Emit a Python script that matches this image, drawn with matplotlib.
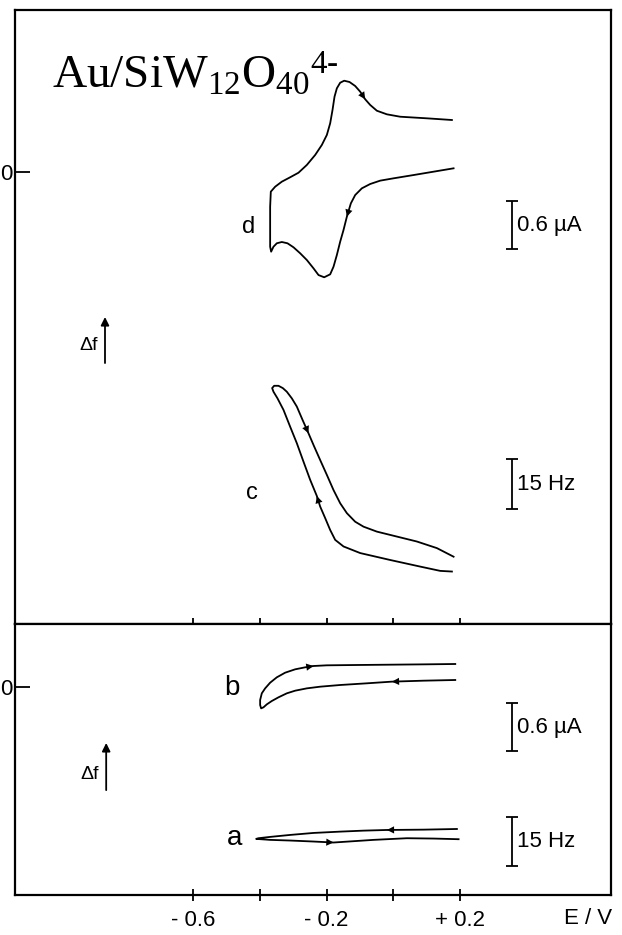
import numpy as np
import matplotlib
matplotlib.use('Agg')
import matplotlib.pyplot as plt

plt.rcParams['font.family'] = ['Liberation Sans', 'DejaVu Sans']
plt.rcParams['mathtext.fontset'] = 'custom'
plt.rcParams['mathtext.rm'] = 'Liberation Serif'
plt.rcParams['mathtext.it'] = 'Liberation Serif:italic'

# d: cyclic voltammogram on Au/SiW12O40(4-), current in uA (sweep starts at +0.2 V going negative)
E_d = [0.181, 0.121, 0.061, 0.001, -0.039, -0.069, -0.094, -0.114, -0.127, -0.139,
       -0.149, -0.159, -0.169, -0.179, -0.189, -0.207, -0.224, -0.239, -0.259, -0.279,
       -0.299, -0.317, -0.334, -0.349, -0.359, -0.366, -0.369, -0.369, -0.369, -0.367,
       -0.354, -0.334, -0.309, -0.284, -0.259, -0.234, -0.214, -0.199, -0.189, -0.182,
       -0.176, -0.169, -0.159, -0.147, -0.131, -0.114, -0.099, -0.084, -0.069, -0.049,
       -0.019, 0.021, 0.101, 0.176]
I_d = [0.046, 0.004, -0.038, -0.079, -0.108, -0.150, -0.204, -0.288, -0.392, -0.559,
       -0.725, -0.871, -1.038, -1.184, -1.279, -1.316, -1.288, -1.204, -1.100, -1.016,
       -0.941, -0.891, -0.875, -0.891, -0.934, -0.996, -0.934, -0.684, -0.434, -0.246,
       -0.184, -0.121, -0.066, -0.009, 0.088, 0.213, 0.338, 0.463, 0.609, 0.775,
       0.941, 1.046, 1.116, 1.141, 1.125, 1.075, 1.004, 0.909, 0.838, 0.766,
       0.721, 0.691, 0.671, 0.650]
arrows_d = [9, 47]

# c: frequency shift for the same scan, Hz relative to start
E_c = [0.176, 0.141, 0.081, -0.009, -0.099, -0.149, -0.174, -0.189, -0.204, -0.219,
       -0.229, -0.249, -0.269, -0.289, -0.309, -0.329, -0.347, -0.359, -0.363, -0.357,
       -0.344, -0.331, -0.319, -0.304, -0.289, -0.272, -0.254, -0.237, -0.219, -0.199,
       -0.179, -0.159, -0.139, -0.114, -0.089, -0.049, -0.009, 0.071, 0.131, 0.181]
F_c = [0.1, 0.3, 1.6, 3.6, 5.7, 7.7, 9.7, 12.7, 16.3, 19.8,
       23.0, 27.9, 33.4, 39.0, 44.0, 49.1, 52.6, 54.6, 55.7, 56.4,
       56.4, 55.7, 54.6, 52.6, 50.1, 46.1, 42.0, 38.0, 33.9, 29.4,
       24.8, 20.8, 17.8, 15.2, 13.7, 12.2, 11.2, 9.2, 7.2, 4.6]
arrows_c = [10, 26]

# b: blank gold electrode, current in uA
E_b = [0.186, 0.091, -0.004, -0.079, -0.159, -0.219, -0.259, -0.294, -0.319, -0.344,
       -0.364, -0.379, -0.389, -0.396, -0.399, -0.399, -0.394, -0.384, -0.369, -0.349,
       -0.324, -0.294, -0.264, -0.239, -0.199, -0.109, -0.009, 0.091, 0.186]
I_b = [0.0875, 0.079, 0.067, 0.046, 0.025, 0.004, -0.017, -0.046, -0.079, -0.129,
       -0.175, -0.217, -0.254, -0.267, -0.225, -0.1625, -0.079, -0.017, 0.054, 0.121,
       0.179, 0.221, 0.246, 0.2625, 0.271, 0.275, 0.279, 0.283, 0.2875]
arrows_b = [2, 23]

# a: blank gold electrode, frequency shift in Hz
E_a = [0.191, 0.091, -0.019, -0.089, -0.159, -0.239, -0.309, -0.369, -0.404, -0.411,
       -0.369, -0.309, -0.239, -0.179, -0.119, -0.059, 0.041, 0.121, 0.196]
F_a = [0.0, -0.2, -0.3, -0.5, -0.8, -1.2, -1.8, -2.4, -2.8, -3.0,
       -3.3, -3.5, -3.8, -4.1, -3.7, -3.3, -2.8, -2.9, -3.1]
arrows_a = [2, 13]

xticks = [-0.6, -0.4, -0.2, 0.0, 0.2]
xticklabels = ['- 0.6', '', '- 0.2', '', '+ 0.2']

LW = 1.3


def draw_scan(ax, x, y, arrows, label, lx, ly, fs):
    ax.plot(x, y, color='k', lw=LW, solid_joinstyle='round')
    for i in arrows:
        ax.annotate('', xy=(x[i], y[i]), xytext=(x[i-1], y[i-1]),
                    arrowprops=dict(arrowstyle='-|>', color='k', lw=0,
                                    mutation_scale=13, shrinkA=0, shrinkB=0))
    ax.text(lx, ly, label, fontsize=fs, ha='center', va='center')


def scale_bar(ax, x, y0, y1, text):
    ax.errorbar(x, (y0 + y1) / 2, yerr=(y1 - y0) / 2, fmt='none', ecolor='k',
                elinewidth=LW, capsize=4, capthick=LW)
    ax.annotate(text, xy=(x, (y0 + y1) / 2), xytext=(4, 0), textcoords='offset points',
                ha='left', va='center', fontsize=16)


def delta_f(ax, x, y0, y1, ty):
    ax.annotate('', xy=(x, y1), xytext=(x, y0), xycoords='axes fraction',
                arrowprops=dict(arrowstyle='-|>', color='k', lw=LW,
                                mutation_scale=12, shrinkA=0, shrinkB=0))
    ax.text(x - 0.012, ty, '\u0394f', transform=ax.transAxes, fontsize=14,
            ha='right', va='center')


fig = plt.figure(figsize=(6.22, 9.35), dpi=100)
ax1 = fig.add_axes([15/622, 311/935, 596/622, 614/935])
ax2 = fig.add_axes([15/622, 40/935, 596/622, 271/935])

for ax in (ax1, ax2):
    ax.set_xlim(-1.134, 0.653)
    ax.set_xticks(xticks)
    ax.tick_params(axis='x', direction='inout', length=9, width=LW, labelsize=16, pad=6)
    ax.set_yticks([0])
    ax.set_yticklabels(['0'])
    ax.tick_params(axis='y', direction='in', length=11, width=LW, labelsize=16, pad=2)
    for s in ax.spines.values():
        s.set_linewidth(1.6)
ax1.set_xticklabels([])
ax2.set_xticklabels(xticklabels)

ax1.set_ylim(-5.65, 2.025)
ax2.set_ylim(-2.6, 0.7875)

# frequency curves share the frame but use their own Hz scale
ax1f = ax1.twinx()
ax1f.set_ylim(-15.8, 170.3)
ax1f.axis('off')
ax2f = ax2.twinx()
ax2f.set_ylim(-20.0, 62.1)
ax2f.axis('off')

draw_scan(ax1, E_d, I_d, arrows_d, 'd', -0.435, -0.69, 17)
draw_scan(ax1f, E_c, F_c, arrows_c, 'c', -0.423, 23.9, 17)
draw_scan(ax2, E_b, I_b, arrows_b, 'b', -0.483, -0.01, 20)
draw_scan(ax2f, E_a, F_a, arrows_a, 'a', -0.477, -2.7, 20)

scale_bar(ax1, 0.355, -0.9625, -0.3625, '0.6 \u00b5A')
scale_bar(ax1f, 0.355, 19.1, 34.1, '15 Hz')
scale_bar(ax2, 0.355, -0.806, -0.206, '0.6 \u00b5A')
scale_bar(ax2f, 0.355, -11.3, 3.7, '15 Hz')

delta_f(ax1, 0.151, 0.425, 0.50, 0.454)
delta_f(ax2, 0.153, 0.387, 0.561, 0.443)

ax2.text(0.961, -0.085, 'E / V', transform=ax2.transAxes, fontsize=16,
         ha='center', va='center')

fig.text(52/622, 1 - 88/935, r'$\mathrm{Au/SiW_{12}O_{40}}^{4\text{-}}$', fontsize=34,
         ha='left', va='baseline')

fig.savefig('out.png', dpi=100, facecolor='white')
